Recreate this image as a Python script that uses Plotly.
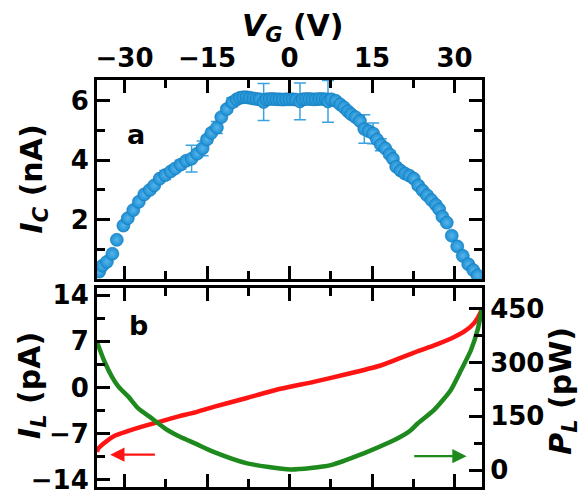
import plotly.graph_objects as go

# ---- panel a: critical current vs gate voltage ----
vg_a = [-34.6, -34.0, -33.2, -32.2, -31.4, -30.2, -29.4, -28.4, -27.4, -26.4, -25.4, -24.6,
        -23.6, -22.6, -21.6, -20.8, -19.8, -18.8, -17.8, -16.8, -15.8, -15.0, -14.2, -13.2,
        -12.4, -11.4, -10.4, -9.6, -9.0, -8.4, -7.8, -7.2, -6.6, -6.0, -5.4, -4.7, -4.2,
        -3.6, -3.0, -2.4, -1.8, -1.2, -0.6, 0.0, 0.6, 1.2, 1.9, 2.4, 3.0, 3.6, 4.2, 4.8,
        5.4, 6.0, 6.6, 7.0, 7.6, 8.4, 9.2, 9.9,
        10.6, 11.2, 12.0, 12.8, 13.6, 14.4, 15.2, 15.9, 16.6, 17.4, 18.2, 18.8, 19.4, 20.2,
        21.0, 21.8, 22.6, 23.4, 24.2, 25.0, 25.8, 26.6, 27.2, 27.8, 28.6, 29.5, 30.5, 31.5,
        32.5, 33.4, 34.2]
ic = [0.25, 0.45, 0.58, 0.85, 1.32, 1.80, 2.05, 2.32, 2.60, 2.85, 3.00, 3.15,
      3.38, 3.50, 3.62, 3.72, 3.85, 3.98, 4.05, 4.22, 4.40, 4.70, 4.92, 5.10,
      5.45, 5.72, 5.95, 6.05, 6.10, 6.12, 6.12, 6.10, 6.08, 6.06, 6.05, 5.96, 6.05,
      6.06, 6.06, 6.05, 6.05, 6.04, 6.05, 6.05, 6.05, 6.04, 5.98, 6.05, 6.06, 6.06, 6.05, 6.05,
      6.06, 6.06, 6.05, 5.98, 6.05, 6.00, 5.88, 5.78,
      5.65, 5.55, 5.45, 5.32, 5.05, 4.98, 4.90, 4.70, 4.52, 4.40, 4.20, 4.05, 3.78, 3.65,
      3.55, 3.48, 3.38, 3.15, 2.98, 2.82, 2.66, 2.50, 2.35, 2.10, 1.90, 1.46, 1.10, 0.78,
      0.50, 0.30, 0.12]
ic_err = [0, 0, 0, 0, 0, 0.05, 0, 0.05, 0, 0.05, 0.1, 0,
          0.05, 0.15, 0.05, 0.1, 0.15, 0, 0.45, 0.1, 0.25, 0.1, 0, 0.2,
          0, 0.1, 0.15, 0, 0, 0, 0, 0, 0, 0, 0, 0.62, 0,
          0, 0, 0, 0, 0, 0, 0, 0, 0, 0.62, 0, 0, 0, 0, 0,
          0, 0, 0, 0.7, 0, 0, 0, 0,
          0, 0.1, 0, 0, 0.48, 0, 0.35, 0, 0.2, 0, 0.1, 0, 0.05, 0,
          0, 0, 0, 0.1, 0, 0.1, 0, 0, 0, 0, 0, 0, 0, 0,
          0, 0, 0]

# ---- panel b: leakage current (left axis) ----
vg_il = [-35.0, -34.8, -33.5, -31.7, -29.3, -26.2, -23.2, -20.0, -17.7, -13.8, -7.6, -1.6,
         4.4, 10.3, 16.4, 20.2, 23.3, 26.3, 29.3, 31.8, 33.6, 34.8, 35.0]
il = [-9.8, -9.3, -8.3, -7.3, -6.6, -5.8, -5.1, -4.35, -3.9, -2.95, -1.55, -0.2,
      0.85, 2.0, 3.3, 4.5, 5.5, 6.4, 7.4, 8.5, 9.8, 11.5, 12.1]

# ---- panel b: leakage power (right axis) ----
vg_pl = [-35.0, -34.8, -33.5, -32.3, -31.1, -29.3, -27.5, -25.0, -22.6, -19.9, -17.1, -13.8,
         -7.7, 0.2, 7.5, 13.5, 18.4, 20.2, 22.1, 23.3, 26.3, 29.3, 31.2, 33.0, 34.2, 35.0]
pl = [358, 349, 298, 261, 233, 205, 172, 144, 116, 93, 74, 51,
      19, 2, 14, 47, 79, 93, 112, 130, 168, 223, 279, 335, 391, 450]

x_ticks = [-30, -15, 0, 15, 30]
x_minor = [-22.5, -7.5, 7.5, 22.5]
ic_ticks = [2, 4, 6]
ic_minor = [1, 3, 5]
il_ticks = [-14, -7, 0, 7, 14]
il_minor = [-10.5, -3.5, 3.5, 10.5]
pl_ticks = [0, 150, 300, 450]
pl_minor = [75, 225, 375]

FONT = "DejaVu Sans, Liberation Sans, sans-serif"
BLUE = "#1a8fd4"
RED = "#ff1414"
GREEN = "#1e8a1e"

fig = go.Figure()
fig.add_trace(go.Scatter(
    x=vg_a, y=ic, mode="markers", xaxis="x", yaxis="y",
    marker=dict(size=13, color=BLUE, line=dict(width=0.6, color="#1477b5"),
                gradient=dict(type="radial", color="#58b4ea")),
    error_y=dict(type="data", array=ic_err, visible=True, color="#3aa2e0",
                 thickness=1.5, width=6),
    showlegend=False))
fig.add_trace(go.Scatter(
    x=vg_il, y=il, mode="lines", xaxis="x2", yaxis="y2",
    line=dict(color=RED, width=4.5, shape="spline", smoothing=0.6), showlegend=False))
fig.add_trace(go.Scatter(
    x=vg_pl, y=pl, mode="lines", xaxis="x2", yaxis="y3",
    line=dict(color=GREEN, width=4.5, shape="spline", smoothing=0.6), showlegend=False))

tickfont = dict(family=FONT, size=26, color="black", weight="bold")
common = dict(showline=True, linewidth=3, linecolor="black", ticks="inside",
              ticklen=13, tickwidth=2.5, tickcolor="black", showgrid=False,
              zeroline=False, tickfont=tickfont, automargin=False)
minor_common = dict(tickmode="array", ticks="inside", ticklen=8, tickwidth=2.5,
                    tickcolor="black")

fig.update_layout(
    width=582, height=499,
    margin=dict(l=97, r=100, t=80, b=12),
    paper_bgcolor="white", plot_bgcolor="white",
    xaxis=dict(domain=[0, 1], anchor="y", side="top", range=[-35, 35],
               tickmode="array", tickvals=x_ticks, mirror="ticks",
               minor=dict(tickvals=x_minor, **minor_common), **common),
    yaxis=dict(domain=[0.511, 1], anchor="x", range=[0, 6.7],
               tickmode="array", tickvals=ic_ticks, mirror="ticks",
               minor=dict(tickvals=ic_minor, **minor_common), **common),
    xaxis2=dict(domain=[0, 1], anchor="y2", range=[-35, 35], matches="x",
                tickmode="array", tickvals=x_ticks, mirror="ticks",
                showticklabels=False,
                minor=dict(tickvals=x_minor, **minor_common), **common),
    yaxis2=dict(domain=[0, 0.489], anchor="x2", range=[-15.1, 15.1],
                tickmode="array", tickvals=il_ticks,
                minor=dict(tickvals=il_minor, **minor_common), **common),
    yaxis3=dict(overlaying="y2", anchor="x2", side="right", range=[-47, 508],
                tickmode="array", tickvals=pl_ticks,
                minor=dict(tickvals=pl_minor, **minor_common), **common),
)

titlefont = dict(family=FONT, size=30, color="black", weight="bold")
ann = [
    dict(text="<i>V</i><sub><i>G</i></sub> (V)", x=0.508, y=1.13, textangle=0),
    dict(text="<i>I</i><sub><i>C</i></sub> (nA)", x=-0.165, y=0.757, textangle=-90),
    dict(text="<i>I</i><sub><i>L</i></sub> (pA)", x=-0.172, y=0.25, textangle=-90),
    dict(text="<i>P</i><sub><i>L</i></sub> (pW)", x=1.21, y=0.236, textangle=-90),
]
for a in ann:
    fig.add_annotation(xref="paper", yref="paper", showarrow=False,
                       xanchor="center", yanchor="middle", font=titlefont, **a)

labfont = dict(family=FONT, size=27, color="black", weight="bold")
fig.add_annotation(xref="paper", yref="paper", x=0.073, y=0.909, text="a",
                   showarrow=False, font=labfont)
fig.add_annotation(xref="paper", yref="paper", x=0.078, y=0.398, text="b",
                   showarrow=False, font=labfont)

# direction arrows
fig.add_annotation(xref="x2", yref="y2", axref="x2", ayref="y2",
                   x=-32.6, y=-10.2, ax=-24.2, ay=-10.2, text="",
                   showarrow=True, arrowhead=2, arrowsize=1.3, arrowwidth=2.2,
                   arrowcolor=RED)
fig.add_annotation(xref="x2", yref="y3", axref="x2", ayref="y3",
                   x=32.2, y=39, ax=22.4, ay=39, text="",
                   showarrow=True, arrowhead=2, arrowsize=1.3, arrowwidth=2.2,
                   arrowcolor=GREEN)

fig.write_html("out.html", config={"displayModeBar": False},
               post_script="document.body.style.margin='0';")
